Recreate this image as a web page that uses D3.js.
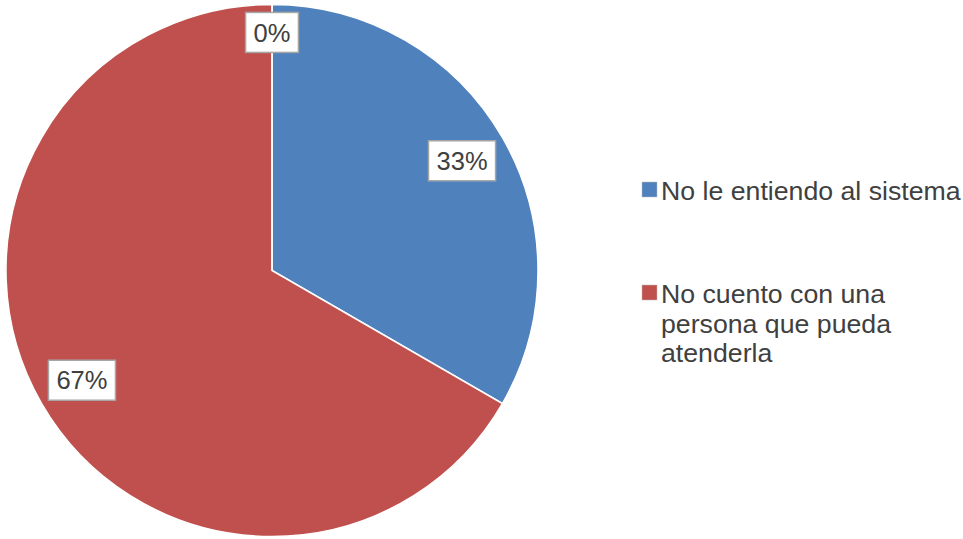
<!DOCTYPE html>
<html><head><meta charset="utf-8">
<script src="https://cdn.jsdelivr.net/npm/d3@7"></script>
<style>
html,body{margin:0;padding:0;background:#fff;}
svg{display:block;font-family:"Liberation Sans",Arial,sans-serif;}
</style></head>
<body>
<svg id="chart" width="963" height="539"></svg>
<script>
const categories = ["No le entiendo al sistema", "No cuento con una persona que pueda atenderla", "Otro"];
const values = [1, 2, 0];
const colors = ["#4F81BD", "#C0504D", "#9BBB59"];
const legendLines = [["No le entiendo al sistema"], ["No cuento con una", "persona que pueda", "atenderla"]];

const svg = d3.select("#chart");
const cx = 272, cy = 270.5, R = 266;
const total = d3.sum(values);
const pie = d3.pie().sort(null).value(d => d)(values);
const arc = d3.arc().innerRadius(0).outerRadius(R);
const g = svg.append("g").attr("transform", `translate(${cx},${cy})`);

g.selectAll("path").data(pie).enter().append("path")
  .attr("d", arc)
  .attr("fill", (d, i) => colors[i])
  .attr("stroke", "#fff").attr("stroke-width", 1.5);

const fmt = d3.format(".0%");
pie.forEach((d, i) => {
  const lr = d.value === 0 ? R * 0.895 : R * 0.825;
  const la = d3.arc().innerRadius(lr).outerRadius(lr);
  const [x, y] = la.centroid(d);
  const t = fmt(d.value / total);
  const lg = g.append("g").attr("transform", `translate(${x},${y})`);
  const txt = lg.append("text").attr("text-anchor", "middle").attr("dy", "0.36em")
    .attr("font-size", 25.5).attr("fill", "#404040").text(t);
  const bb = txt.node().getBBox();
  lg.insert("rect", "text")
    .attr("x", bb.x - 8).attr("y", -20).attr("width", bb.width + 16).attr("height", 40)
    .attr("fill", "#fff").attr("stroke", "#A6A6A6").attr("stroke-width", 1.5);
});

// legend
const legendY = [190, 293];
const lg = svg.append("g");
legendLines.forEach((lines, i) => {
  lg.append("rect").attr("x", 642).attr("y", legendY[i] - 8).attr("width", 15).attr("height", 15)
    .attr("fill", colors[i]).attr("stroke", "#bbb").attr("stroke-width", 0.5);
  const t = lg.append("text").attr("x", 661).attr("y", legendY[i] + 10)
    .attr("font-size", 26.7).attr("fill", "#404040");
  lines.forEach((ln, j) => {
    t.append("tspan").attr("x", 661).attr("dy", j === 0 ? 0 : 29.5).text(ln);
  });
});
</script>
</body></html>
